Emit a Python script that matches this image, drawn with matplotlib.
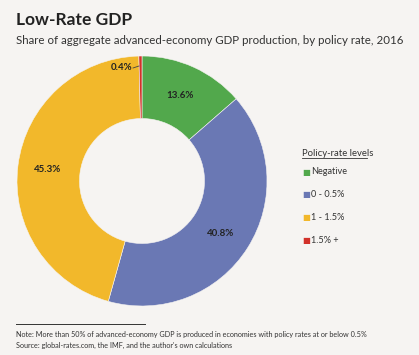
import matplotlib.pyplot as plt
import matplotlib.lines as mlines

W, H = 419, 355

labels = ["Negative", "0 - 0.5%", "1 - 1.5%", "1.5% +"]
shares = [13.6, 40.8, 45.3, 0.4]
pct_text = ["13.6%", "40.8%", "45.3%", "0.4%"]
colors = ["#52a84c", "#6a78b4", "#f2b82b", "#d2312a"]

bg = "#f6f4f2"
plt.rcParams["font.family"] = ["Lato", "DejaVu Sans"]

fig = plt.figure(figsize=(W / 100, H / 100), dpi=100, facecolor=bg)

# donut axes, square in pixels
cx, cy, r = 142, 181, 125
ax = fig.add_axes([(cx - r) / W, (H - cy - r) / H, 2 * r / W, 2 * r / H])
ax.set_facecolor(bg)
wedges, _ = ax.pie(shares, colors=colors, startangle=90, counterclock=False,
                   radius=1, wedgeprops=dict(width=0.5, edgecolor=bg, linewidth=0.4))
ax.set_xlim(-1, 1)
ax.set_ylim(-1, 1)
ax.set_aspect("equal")
ax.axis("off")

# wedge labels (positions in pixels, converted to data coords)
def px(x, y):
    return (x - cx) / r, (cy - y) / r

label_pos = [(180, 96), (221, 233), (48, 170)]
for t, (x, y) in zip(pct_text[:3], label_pos):
    ax.text(*px(x, y), t, ha="center", va="center", fontsize=7,
            fontweight="bold", color="#222222")
ax.text(*px(122, 68), pct_text[3], ha="center", va="center", fontsize=7,
        fontweight="bold", color="#222222")
x0, y0 = px(133, 68)
x1, y1 = px(139, 66)
ax.plot([x0, x1], [y0, y1], color="#444444", lw=0.6)

# titles
fig.text(16 / W, 1 - 20 / H, "Low-Rate GDP", fontsize=12.5, fontweight="bold",
         color="#222222", va="center", ha="left")
fig.text(16 / W, 1 - 40 / H,
         "Share of aggregate advanced-economy GDP production, by policy rate, 2016",
         fontsize=8.3, color="#333333", va="center", ha="left")

# legend
fig.text(302 / W, 1 - 153 / H, "Policy-rate levels", fontsize=6.8, color="#333333",
         va="center", ha="left")
fig.add_artist(mlines.Line2D([302 / W, 367 / W], [1 - 158 / H, 1 - 158 / H],
                             color="#333333", lw=0.6))
for i, (lab, c) in enumerate(zip(labels, colors)):
    y = 172 + i * 22.7
    fig.text(302 / W, 1 - y / H, "\u25A0", fontsize=6, color=c, va="center", ha="left")
    fig.text(311 / W, 1 - y / H, lab, fontsize=6.6, color="#333333", va="center",
             ha="left")

# footnote
fig.add_artist(mlines.Line2D([16 / W, 145 / W], [1 - 324 / H, 1 - 324 / H],
                             color="#333333", lw=0.7))
fig.text(16 / W, 1 - 335 / H,
         "Note: More than 50% of advanced-economy GDP is produced in economies with policy rates at or below 0.5%",
         fontsize=5.2, color="#333333", va="center", ha="left")
fig.text(16 / W, 1 - 345 / H,
         "Source: global-rates.com, the IMF, and the author's own calculations",
         fontsize=5.2, color="#333333", va="center", ha="left")

fig.savefig("out.png", dpi=100, facecolor=bg)
